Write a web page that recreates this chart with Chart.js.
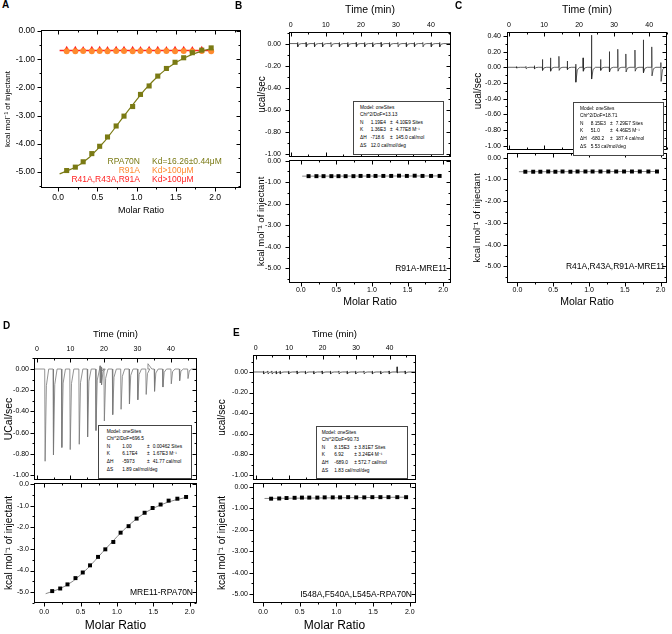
<!DOCTYPE html>
<html>
<head>
<meta charset="utf-8">
<script src="https://cdn.jsdelivr.net/npm/chart.js@4.4.1/dist/chart.umd.min.js"></script>
<style>
  body { margin: 0; width: 672px; height: 634px; position: relative; overflow: hidden; background: #fff; font-family: "Liberation Sans", Arial, sans-serif; }
  canvas { position: absolute; }
  .lbl { position: absolute; white-space: nowrap; line-height: 1; transform: translateY(-50%); }
  .box { position: absolute; border: 1px solid #444; background: #fff; }
  .box span { position: absolute; white-space: nowrap; font-size: 4.8px; line-height: 1; transform: translateY(-50%); }
</style>
</head>
<body>
<script>
const F = '"Liberation Sans", Arial, sans-serif';

// molar ratio of each injection (same for all isotherms)
const molar = [0.11, 0.22, 0.32, 0.43, 0.53, 0.63, 0.74, 0.84, 0.95, 1.05, 1.16, 1.27, 1.38, 1.49, 1.60, 1.71, 1.83, 1.95];

// panel A / D isotherm, kcal/mol of injectant
const rpa70n = [-4.95, -4.83, -4.64, -4.35, -4.09, -3.76, -3.37, -3.02, -2.68, -2.25, -1.95, -1.60, -1.33, -1.11, -0.95, -0.77, -0.68, -0.60];
const rpaFitX = [0.02, 0.10, 0.20, 0.30, 0.40, 0.50, 0.60, 0.70, 0.80, 0.90, 1.00, 1.10, 1.20, 1.30, 1.40, 1.50, 1.60, 1.70, 1.80, 1.95];
const rpaFitY = [-5.07, -4.98, -4.86, -4.70, -4.48, -4.20, -3.89, -3.53, -3.16, -2.80, -2.44, -2.10, -1.80, -1.53, -1.30, -1.12, -0.97, -0.84, -0.74, -0.62];
const r91a = [-0.72, -0.72, -0.71, -0.72, -0.71, -0.72, -0.71, -0.71, -0.72, -0.71, -0.71, -0.72, -0.71, -0.72, -0.71, -0.72, -0.71, -0.72];
const r41a = [-0.64, -0.64, -0.65, -0.64, -0.64, -0.65, -0.64, -0.64, -0.64, -0.65, -0.64, -0.64, -0.65, -0.64, -0.64, -0.65, -0.64, -0.64];
const flatFitX = [0.02, 1.95];
const r41aFit = [-0.69, -0.69];

// panel B
const bTimes = [1.9, 4.3, 6.7, 9.0, 11.4, 13.8, 16.2, 18.6, 21.0, 23.3, 25.7, 28.1, 30.5, 32.9, 35.2, 37.6, 40.0, 42.4];
const bUp = [0.01, 0.01, 0.01, 0.01, 0.01, 0.01, 0.01, 0.01, 0.01, 0.01, 0.01, 0.01, 0.01, 0.01, 0.01, 0.01, 0.01, 0.01];
const bDown = [-0.03, -0.03, -0.03, -0.03, -0.03, -0.03, -0.03, -0.03, -0.03, -0.03, -0.03, -0.03, -0.03, -0.03, -0.03, -0.03, -0.03, -0.03];
const bHeat = [-0.72, -0.72, -0.72, -0.72, -0.72, -0.72, -0.72, -0.71, -0.71, -0.71, -0.71, -0.71, -0.70, -0.71, -0.70, -0.71, -0.71, -0.71];
const bFit = [-0.72, -0.71];

// panel C
const cTimes = [2.1, 4.8, 7.2, 9.5, 11.8, 14.2, 16.6, 19.0, 21.1, 23.5, 26.1, 28.6, 31.0, 33.3, 35.9, 38.3, 40.7, 43.3];
const cUp = [0.01, 0.01, 0.02, 0.10, 0.12, 0.14, 0.08, 0.04, 0.12, 0.41, 0.10, 0.20, 0.23, 0.17, 0.22, 0.35, 0.26, 0.06];
const cDown = [-0.01, -0.02, -0.02, -0.04, -0.05, -0.04, -0.03, -0.19, -0.05, -0.15, -0.04, -0.06, -0.05, -0.06, -0.05, -0.07, -0.11, -0.18];
const cHeat = [-0.65, -0.65, -0.65, -0.64, -0.65, -0.64, -0.65, -0.64, -0.64, -0.64, -0.64, -0.64, -0.64, -0.64, -0.64, -0.64, -0.64, -0.64];
const cFit = [-0.65, -0.64];

// panel D
const dTimes = [2.3, 4.8, 7.3, 9.8, 12.5, 15.0, 17.5, 18.8, 19.2, 20.0, 22.5, 25.0, 27.5, 30.0, 32.5, 33.1, 35.0, 37.5, 40.0, 42.5, 45.0];
const dUp = [0, 0, 0, 0, 0, 0, 0, 0.03, 0.02, 0, 0, 0, 0, 0, 0, 0.05, 0, 0, 0, 0, 0];
const dDown = [-0.87, -0.81, -0.74, -0.76, -0.71, -0.64, -0.58, -0.13, -0.15, -0.49, -0.43, -0.38, -0.33, -0.29, -0.24, 0, -0.21, -0.17, -0.14, -0.11, -0.09];

// panel E
const eTimes = [2.3, 3.6, 4.8, 6.1, 7.3, 9.8, 12.3, 14.8, 17.3, 19.8, 22.3, 24.8, 27.3, 29.8, 32.3, 34.8, 37.3, 39.8, 42.2, 44.6];
const eUp = [0.01, 0.01, 0.01, 0.01, 0.01, 0.01, 0.01, 0.01, 0.01, 0.01, 0.01, 0.01, 0.01, 0.01, 0.01, 0.01, 0.01, 0.01, 0.05, 0.01];
const eDown = [-0.02, -0.02, -0.02, -0.02, -0.02, -0.02, -0.02, -0.02, -0.02, -0.02, -0.02, -0.02, -0.02, -0.02, -0.02, -0.02, -0.02, -0.02, -0.01, -0.02];
const eHeat = [-0.55, -0.54, -0.52, -0.51, -0.50, -0.50, -0.50, -0.49, -0.49, -0.49, -0.48, -0.49, -0.49, -0.48, -0.48, -0.48, -0.48, -0.48];
const eFit = [-0.54, -0.48];

// tick labels
const molarTicks = [0, 0.5, 1, 1.5, 2];
const timeTicks = [0, 10, 20, 30, 40];
const kcalTicks = [0, -1, -2, -3, -4, -5];
const rawTicks = [0, -0.2, -0.4, -0.6, -0.8, -1.0];
const rawTicksC = [0.4, 0.2, 0, -0.2, -0.4, -0.6, -0.8, -1.0];

// ---------- helpers ----------
const pts = (xs, ys) => xs.map((x, i) => ({ x, y: ys[i] }));

// raw thermogram: baseline with a short spike at every injection
function trace(times, up, down, t0, t1) {
  const out = [{ x: t0, y: 0 }];
  times.forEach((t, i) => {
    out.push({ x: t, y: 0 });
    if (up[i]) out.push({ x: t + 0.05, y: up[i] });
    if (down[i]) {
      out.push({ x: t + 0.12, y: down[i] });
      out.push({ x: t + 0.5, y: down[i] * 0.18 });
    }
    out.push({ x: t + 1.2, y: 0 });
  });
  out.push({ x: t1, y: 0 });
  return out;
}

const frame = {
  id: 'frame',
  afterDraw(chart, args, o) {
    const { ctx, chartArea: a } = chart;
    ctx.save();
    ctx.strokeStyle = '#000';
    ctx.lineWidth = 1;
    const L = Math.round(a.left) + 0.5, T = Math.round(a.top) + 0.5;
    const R = Math.round(a.right) - 0.5, B = Math.round(a.bottom) - 0.5;
    ctx.strokeRect(L, T, R - L, B - T);
    (o.marks || []).forEach(m => {
      const s = chart.scales[m.id];
      const vals = s.ticks.map(t => t.value).sort((p, q) => p - q);
      const step = vals[1] - vals[0];
      const all = [[vals[0] - step / 2, 2]];
      vals.forEach(v => { all.push([v, 4]); all.push([v + step / 2, 2]); });
      all.forEach(([v, len]) => {
        if (v < s.min || v > s.max) return;
        const p = Math.round(s.getPixelForValue(v)) + 0.5;
        m.sides.forEach(([side, dir]) => {
          ctx.beginPath();
          if (side === 'left') { ctx.moveTo(L, p); ctx.lineTo(L - dir * len, p); }
          if (side === 'right') { ctx.moveTo(R, p); ctx.lineTo(R + dir * len, p); }
          if (side === 'top') { ctx.moveTo(p, T); ctx.lineTo(p, T - dir * len); }
          if (side === 'bottom') { ctx.moveTo(p, B); ctx.lineTo(p, B + dir * len); }
          ctx.stroke();
        });
      });
    });
    ctx.restore();
  }
};

function axis(o) {
  return {
    type: 'linear',
    position: o.pos,
    min: o.min,
    max: o.max,
    afterBuildTicks: s => { s.ticks = o.ticks.map(v => ({ value: v })); },
    grid: { display: false, drawTicks: false },
    border: { display: false },
    ticks: {
      padding: o.pad, color: '#000', maxRotation: 0, autoSkip: false,
      font: { family: F, size: o.fs },
      callback: v => (Math.abs(v) < 1e-9 ? 0 : v).toFixed(o.dec)
    },
    title: o.title ? {
      display: true, text: o.title, color: '#000',
      font: { family: F, size: o.tfs, lineHeight: 1.2 },
      padding: o.tpad
    } : { display: false }
  };
}

function chart(box, area, scales, datasets, marks) {
  const c = document.createElement('canvas');
  c.width = box[2] - box[0];
  c.height = box[3] - box[1];
  c.style.left = box[0] + 'px';
  c.style.top = box[1] + 'px';
  document.body.appendChild(c);
  const list = Object.values(scales);
  const has = p => list.some(s => s.position === p);
  list.forEach(s => {
    const size = s.position === 'left' ? area[0] - box[0]
      : s.position === 'right' ? box[2] - area[2]
      : s.position === 'top' ? area[1] - box[1] : box[3] - area[3];
    s.afterFit = sc => {
      if (sc.isHorizontal()) sc.height = size; else sc.width = size;
      sc.paddingLeft = sc.paddingRight = sc.paddingTop = sc.paddingBottom = 0;
    };
  });
  new Chart(c, {
    type: 'scatter',
    data: { datasets },
    options: {
      responsive: false,
      animation: false,
      events: [],
      layout: {
        padding: {
          left: has('left') ? 0 : area[0] - box[0],
          right: has('right') ? 0 : box[2] - area[2],
          top: has('top') ? 0 : area[1] - box[1],
          bottom: has('bottom') ? 0 : box[3] - area[3]
        }
      },
      plugins: { legend: { display: false }, tooltip: { enabled: false }, frame: { marks } },
      scales
    },
    plugins: [frame]
  });
}

const line = (data, color, w, xa) => ({ data, showLine: true, borderColor: color, borderWidth: w, pointRadius: 0, xAxisID: xa || 'x', yAxisID: 'y' });
const dots = (data, color, style, r) => ({ data, showLine: false, pointStyle: style, pointRadius: r, backgroundColor: color, borderColor: color, borderWidth: 0, xAxisID: 'x', yAxisID: 'y' });

const topMarks = [{ id: 'y', sides: [['left', 1], ['right', -1]] }, { id: 't', sides: [['top', -1], ['bottom', -1]] }];
const botMarks = [{ id: 'y', sides: [['left', 1], ['right', -1]] }, { id: 'x', sides: [['bottom', 1], ['top', -1]] }];

function text(str, x, y, size, color, align, bold) {
  const d = document.createElement('div');
  d.className = 'lbl';
  d.textContent = str;
  d.style.fontSize = size + 'px';
  d.style.color = color || '#000';
  if (bold) d.style.fontWeight = 'bold';
  if (align === 'right') { d.style.right = (672 - x) + 'px'; } else { d.style.left = x + 'px'; }
  d.style.top = y + 'px';
  document.body.appendChild(d);
}

function infoBox(x, y, w, h, cols, rows) {
  const b = document.createElement('div');
  b.className = 'box';
  b.style.left = x + 'px'; b.style.top = y + 'px';
  b.style.width = w + 'px'; b.style.height = h + 'px';
  rows.forEach((r, i) => {
    const cy = 5.5 + i * 7.6;
    r.forEach((s, j) => {
      const sp = document.createElement('span');
      sp.textContent = s;
      sp.style.left = cols[j] + 'px';
      sp.style.top = cy + 'px';
      b.appendChild(sp);
    });
  });
  document.body.appendChild(b);
}

const kcalTitle = 'kcal mol\u207B\u00B9 of injectant';
const OLIVE = '#7a7a14', ORANGE = '#ff8a2e', RED = '#ff2424';

// ---------- panel A ----------
chart([0, 18, 250, 220], [41, 30, 241, 188], {
  x: axis({ pos: 'bottom', min: -0.217, max: 2.33, ticks: molarTicks, dec: 1, fs: 8.5, pad: 5, title: 'Molar Ratio', tfs: 9, tpad: { top: 0, bottom: 4.5 } }),
  y: axis({ pos: 'left', min: -5.57, max: 0.035, ticks: kcalTicks, dec: 2, fs: 8.5, pad: 6, title: kcalTitle, tfs: 8, tpad: { top: 2.5, bottom: 0 } })
}, [
  dots(pts(molar, rpa70n), OLIVE, 'rect', 3.6),
  line(pts(rpaFitX, rpaFitY), OLIVE, 1.2),
  dots(pts(molar, r91a), ORANGE, 'circle', 3),
  dots(pts(molar, r41a), RED, 'triangle', 3.2),
  line(pts(flatFitX, r41aFit), RED, 1.5)
], botMarks);

// ---------- panel B ----------
chart([238, 0, 456, 158], [289, 32, 451, 157], {
  t: axis({ pos: 'top', min: -0.5, max: 45.7, ticks: timeTicks, dec: 0, fs: 7, pad: 3, title: 'Time (min)', tfs: 10.5, tpad: { top: 4, bottom: 0 } }),
  y: axis({ pos: 'left', min: -1.03, max: 0.105, ticks: rawTicks, dec: 2, fs: 7, pad: 8, title: 'ucal/sec', tfs: 10, tpad: { top: 18, bottom: 0 } })
}, [line(trace(bTimes, bUp, bDown, -0.5, 45.7), '#222', 0.7, 't')], topMarks);

chart([238, 156, 456, 310], [289, 157, 451, 283], {
  x: axis({ pos: 'bottom', min: -0.165, max: 2.11, ticks: molarTicks, dec: 1, fs: 7, pad: 3, title: 'Molar Ratio', tfs: 10.5, tpad: { top: 0, bottom: 2 } }),
  y: axis({ pos: 'left', min: -5.68, max: 0.03, ticks: kcalTicks, dec: 2, fs: 7, pad: 8, title: kcalTitle, tfs: 9.5, tpad: { top: 18, bottom: 0 } })
}, [
  dots(pts(molar, bHeat), '#000', 'rect', 2.8),
  line(pts(flatFitX, bFit), '#888', 1)
], botMarks);

// ---------- panel C ----------
chart([458, 0, 672, 151], [507, 32, 667, 150], {
  t: axis({ pos: 'top', min: -0.57, max: 45.1, ticks: timeTicks, dec: 0, fs: 7, pad: 3, title: 'Time (min)', tfs: 10.5, tpad: { top: 4, bottom: 0 } }),
  y: axis({ pos: 'left', min: -1.055, max: 0.45, ticks: rawTicksC, dec: 2, fs: 7, pad: 6, title: 'ucal/sec', tfs: 10, tpad: { top: 14, bottom: 0 } })
}, [line(trace(cTimes, cUp, cDown, -0.57, 45.1), '#222', 0.7, 't')], topMarks);

chart([458, 149, 672, 310], [507, 150, 667, 283], {
  x: axis({ pos: 'bottom', min: -0.146, max: 2.09, ticks: molarTicks, dec: 1, fs: 7, pad: 3, title: 'Molar Ratio', tfs: 10.5, tpad: { top: 0, bottom: 2 } }),
  y: axis({ pos: 'left', min: -5.76, max: 0.21, ticks: kcalTicks, dec: 2, fs: 7, pad: 6, title: kcalTitle, tfs: 9.5, tpad: { top: 14, bottom: 0 } })
}, [
  dots(pts(molar, cHeat), '#000', 'rect', 2.8),
  line(pts(flatFitX, cFit), '#888', 1)
], botMarks);

// ---------- panel D ----------
chart([0, 318, 205, 481], [34, 358, 197, 480], {
  t: axis({ pos: 'top', min: -0.9, max: 47.8, ticks: timeTicks, dec: 0, fs: 7, pad: 5, title: 'Time (min)', tfs: 9.5, tpad: { top: 11, bottom: 0 } }),
  y: axis({ pos: 'left', min: -1.047, max: 0.104, ticks: rawTicks, dec: 2, fs: 7, pad: 5, title: 'UCal/sec', tfs: 10.5, tpad: { top: 3, bottom: 0 } })
}, [line(trace(dTimes, dUp, dDown, -0.9, 47.8), '#777', 0.8, 't')], topMarks);

chart([0, 479, 205, 634], [34, 480, 197, 603], {
  x: axis({ pos: 'bottom', min: -0.14, max: 2.1, ticks: molarTicks, dec: 1, fs: 7, pad: 5, title: 'Molar Ratio', tfs: 12, tpad: { top: 0, bottom: 1.5 } }),
  y: axis({ pos: 'left', min: -5.5, max: 0.045, ticks: kcalTicks, dec: 1, fs: 7, pad: 5, title: kcalTitle, tfs: 10, tpad: { top: 3, bottom: 0 } })
}, [
  dots(pts(molar, rpa70n), '#000', 'rect', 2.8),
  line(pts(rpaFitX, rpaFitY), '#888', 1)
], botMarks);

// ---------- panel E ----------
chart([215, 318, 425, 481], [253, 355, 416, 480], {
  t: axis({ pos: 'top', min: -0.8, max: 47.9, ticks: timeTicks, dec: 0, fs: 7, pad: 3, title: 'Time (min)', tfs: 9.5, tpad: { top: 11, bottom: 0 } }),
  y: axis({ pos: 'left', min: -1.05, max: 0.165, ticks: rawTicks, dec: 2, fs: 7, pad: 5, title: 'ucal/sec', tfs: 10, tpad: { top: 1, bottom: 0 } })
}, [line(trace(eTimes, eUp, eDown, -0.8, 47.9), '#222', 0.7, 't')], topMarks);

chart([215, 479, 425, 634], [253, 480, 416, 603], {
  x: axis({ pos: 'bottom', min: -0.137, max: 2.085, ticks: molarTicks, dec: 1, fs: 7, pad: 5, title: 'Molar Ratio', tfs: 12, tpad: { top: 0, bottom: 1.5 } }),
  y: axis({ pos: 'left', min: -5.41, max: 0.18, ticks: kcalTicks, dec: 2, fs: 7, pad: 5, title: kcalTitle, tfs: 10, tpad: { top: 1, bottom: 0 } })
}, [
  dots(pts(molar, eHeat), '#000', 'rect', 2.8),
  line(pts(flatFitX, eFit), '#888', 1)
], botMarks);

// ---------- labels ----------
text('A', 2, 5, 10, '#000', 'left', true);
text('B', 235, 6, 10, '#000', 'left', true);
text('C', 455, 6, 10, '#000', 'left', true);
text('D', 3, 326, 10, '#000', 'left', true);
text('E', 233, 333, 10, '#000', 'left', true);

text('RPA70N', 140, 161, 8.5, OLIVE, 'right');
text('Kd=16.26\u00B10.44\u03BCM', 152, 161, 8.5, OLIVE);
text('R91A', 140, 170, 8.5, ORANGE, 'right');
text('Kd>100\u03BCM', 152, 170, 8.5, ORANGE);
text('R41A,R43A,R91A', 140, 179, 8.5, RED, 'right');
text('Kd>100\u03BCM', 152, 179, 8.5, RED);

text('R91A-MRE11', 447, 268, 8.5, '#000', 'right');
text('R41A,R43A,R91A-MRE11', 665, 266, 8.5, '#000', 'right');
text('MRE11-RPA70N', 193, 592, 8.5, '#000', 'right');
text('I548A,F540A,L545A-RPA70N', 412, 594, 8.5, '#000', 'right');

const wideCols = [6, 16.7, 36, 41.7];
infoBox(353, 101, 89, 52, wideCols, [
  ['Model: oneSites'], ['Chi^2/DoF=13.13'],
  ['N', '1.19E4', '\u00B1', '4.10E9 Sites'],
  ['K', '1.36E3', '\u00B1', '4.77E8 M\u207B\u00B9'],
  ['\u0394H', '-718.6', '\u00B1', '145.0 cal/mol'],
  ['\u0394S', '12.0 cal/mol/deg']
]);
infoBox(573, 102, 89, 52, wideCols, [
  ['Model: oneSites'], ['Chi^2/DoF=18.71'],
  ['N', '8.15E3', '\u00B1', '7.29E7 Sites'],
  ['K', '51.0', '\u00B1', '4.46E5 M\u207B\u00B9'],
  ['\u0394H', '-680.2', '\u00B1', '187.4 cal/mol'],
  ['\u0394S', '5.53 cal/mol/deg']
]);
infoBox(98, 425, 92, 52, [7.7, 23.3, 48, 53.7], [
  ['Model: oneSites'], ['Chi^2/DoF=696.5'],
  ['N', '1.00', '\u00B1', '0.00462 Sites'],
  ['K', '6.17E4', '\u00B1', '1.67E3 M\u207B\u00B9'],
  ['\u0394H', '-5973', '\u00B1', '41.77 cal/mol'],
  ['\u0394S', '1.89 cal/mol/deg']
]);
infoBox(316, 426, 90, 51, [4.7, 17.3, 37.3, 41.3], [
  ['Model: oneSites'], ['Chi^2/DoF=90.73'],
  ['N', '8.15E3', '\u00B1', '3.81E7 Sites'],
  ['K', '6.92', '\u00B1', '3.24E4 M\u207B\u00B9'],
  ['\u0394H', '-689.0', '\u00B1', '572.7 cal/mol'],
  ['\u0394S', '1.83 cal/mol/deg']
]);
</script>
</body>
</html>
